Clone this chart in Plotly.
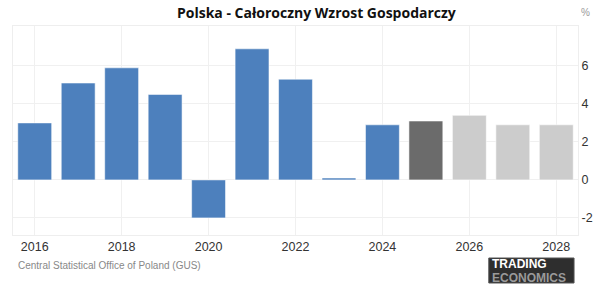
import plotly.graph_objects as go

years = [2016, 2017, 2018, 2019, 2020, 2021, 2022, 2023, 2024, 2025, 2026, 2027, 2028]
growth = [3.0, 5.1, 5.9, 4.5, -2.0, 6.9, 5.3, 0.1, 2.9, 3.1, 3.4, 2.9, 2.9]
bar_colors = ["#4d80bd"] * 9 + ["#6b6b6b"] + ["#cccccc"] * 3
tick_years = [2016, 2018, 2020, 2022, 2024, 2026, 2028]
y_ticks = [-2, 0, 2, 4, 6]

fig = go.Figure()
fig.add_trace(go.Bar(
    x=years, y=growth,
    marker=dict(color=bar_colors, line=dict(color="rgba(255,255,255,0.55)", width=1)),
    hoverinfo="x+y",
))

fig.update_layout(
    width=605, height=294,
    margin=dict(l=13, r=22, t=26, b=59),
    paper_bgcolor="white", plot_bgcolor="white",
    bargap=0.22,
    showlegend=False,
    font=dict(family="Liberation Sans, Arial, sans-serif", color="#333333", size=12),
    xaxis=dict(
        range=[2015.5, 2028.5],
        tickvals=tick_years, ticktext=[str(t) for t in tick_years],
        showgrid=True, gridcolor="#f0f0f0", gridwidth=1,
        zeroline=False,
        showline=True, linecolor="#eeeeee", mirror=True,
        ticks="", tickfont=dict(size=12.5, color="#333333"),
    ),
    yaxis=dict(
        range=[-2.9, 8.1], side="right",
        tickvals=y_ticks, ticktext=[str(t) for t in y_ticks],
        showgrid=True, gridcolor="#f0f0f0", gridwidth=1,
        zeroline=False,
        showline=True, linecolor="#eeeeee", mirror=True,
        ticks="", tickfont=dict(size=12.5, color="#333333"),
    ),
)

fig.add_annotation(
    text="<b>Polska - Całoroczny Wzrost Gospodarczy</b>",
    xref="paper", yref="paper", x=(319 - 13) / 570, y=1, yanchor="bottom", xanchor="center",
    yshift=2, showarrow=False,
    font=dict(family="Open Sans, sans-serif", size=14, color="#111111"),
)
fig.add_annotation(
    text="%", xref="paper", yref="paper", x=1, y=1, xanchor="left", yanchor="bottom",
    xshift=1, yshift=6, showarrow=False,
    font=dict(size=10, color="#999999"),
)
fig.add_annotation(
    text="Central Statistical Office of Poland (GUS)",
    xref="paper", yref="paper", x=0, y=0, xanchor="left", yanchor="top",
    xshift=3, yshift=-23, showarrow=False,
    font=dict(size=10, color="#888888"),
)

# Trading Economics logo
fig.add_shape(
    type="rect", xref="paper", yref="paper",
    x0=(493 - 13) / 570, x1=(579 - 13) / 570,
    y0=(235 - 258) / 209, y1=(235 - 283) / 209,
    fillcolor="#2e2e2e", line=dict(color="#555555", width=1), layer="above",
)
fig.add_annotation(
    text="<b>TRADING</b>", xref="paper", yref="paper",
    x=(494 - 13) / 570, y=(235 - 264) / 209, xanchor="left", yanchor="middle",
    showarrow=False, font=dict(size=12, color="white", family="Liberation Sans, Arial"),
)
fig.add_annotation(
    text="<b>ECONOMICS</b>", xref="paper", yref="paper",
    x=(494 - 13) / 570, y=(235 - 277.5) / 209, xanchor="left", yanchor="middle",
    showarrow=False, font=dict(size=12, color="#9a9a9a", family="Liberation Sans, Arial"),
)

fig.write_html("out.html")
